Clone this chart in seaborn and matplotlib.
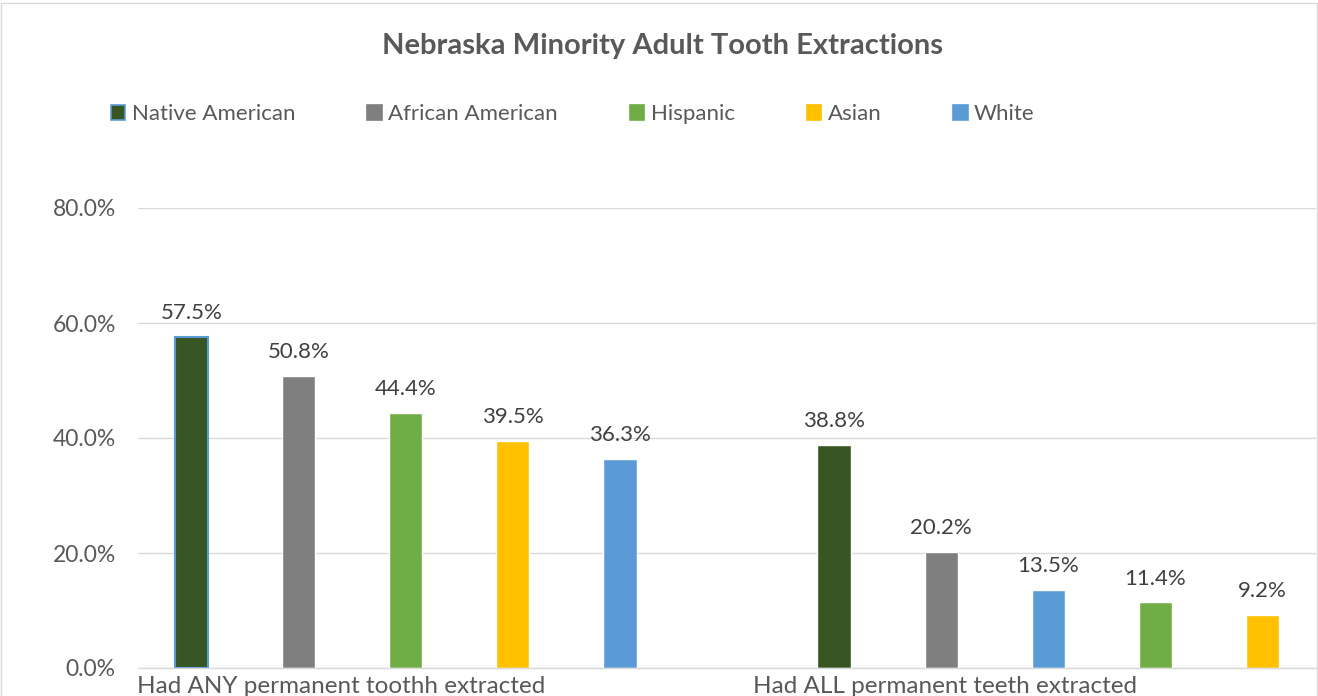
import matplotlib
matplotlib.use("Agg")
import matplotlib.pyplot as plt
import seaborn as sns
import pandas as pd
from matplotlib.patches import Rectangle
from matplotlib.ticker import FuncFormatter

# ---------------- data ----------------
title = "Nebraska Minority Adult Tooth Extractions"
groups = ["Had ANY permanent toothh extracted", "Had ALL permanent teeth extracted"]
legend_order = ["Native American", "African American", "Hispanic", "Asian", "White"]
colors = ["#375623", "#7f7f7f", "#70ad47", "#ffc000", "#5b9bd5"]

races_any = ["Native American", "African American", "Hispanic", "Asian", "White"]
values_any = [57.5, 50.8, 44.4, 39.5, 36.3]
races_all = ["Native American", "African American", "White", "Hispanic", "Asian"]
values_all = [38.8, 20.2, 13.5, 11.4, 9.2]

y_ticks = [0, 20, 40, 60, 80]

# ---------------- style ----------------
sns.set_theme(style="white")
plt.rcParams['font.family'] = ['Lato', 'DejaVu Sans']
TXT = "#595959"
GRID = "#d9d9d9"

W, H = 1318, 696
fig = plt.figure(figsize=(W / 100, H / 100), dpi=100)
ax = fig.add_axes([138 / W, (H - 668) / H, (1316 - 138) / W, (668 - 208) / H])

rows = []
for gi, (races, vals) in enumerate([(races_any, values_any), (races_all, values_all)]):
    for k, (r, v) in enumerate(zip(races, vals)):
        rows.append(dict(slot=f"{gi}-{k}", race=r, value=v, group=groups[gi]))
df = pd.DataFrame(rows)
order = [f"0-{k}" for k in range(5)] + ["gap"] + [f"1-{k}" for k in range(5)]

sns.barplot(data=df, x="slot", y="value", hue="race", order=order,
            hue_order=legend_order, palette=colors, dodge=False, width=0.31,
            saturation=1, ax=ax, legend=False, errorbar=None)

for i, cont in enumerate(ax.containers):
    ax.bar_label(cont, fmt="%.1f%%", padding=10, fontsize=16, color="#404040")
# highlighted (selected) first bar
first = ax.containers[0].patches[0]
first.set_edgecolor("#5b9bd5")
first.set_linewidth(1.5)

ax.set_ylim(0, 80)
ax.set_xlim(-0.5, 10.5)
ax.set_yticks(y_ticks)
ax.yaxis.set_major_formatter(FuncFormatter(lambda v, p: f"{v:.1f}%"))
ax.tick_params(axis='y', length=0, pad=16, labelsize=16.5, labelcolor=TXT)
ax.set_xticks([])
ax.set_xlabel("")
ax.set_ylabel("")
ax.grid(axis='y', color=GRID, lw=1)
ax.set_axisbelow(True)
for s in ["left", "right", "top"]:
    ax.spines[s].set_visible(False)
ax.spines["bottom"].set_color(GRID)
ax.spines["bottom"].set_linewidth(1)

# group labels
for x, lab in zip([1.40, 7.04], groups):
    ax.annotate(lab, xy=(x, 0), xycoords=('data', 'axes fraction'), xytext=(0, -6),
                textcoords='offset points', ha='center', va='top', fontsize=17.5,
                color=TXT, annotation_clip=False)

# legend
handles = [Rectangle((0, 0), 1, 1, facecolor=c,
                     edgecolor=("#5b9bd5" if i == 0 else c), lw=1.2)
           for i, c in enumerate(colors)]
fig.legend(handles, legend_order, loc='center left', bbox_to_anchor=(111 / W, 1 - 114 / H),
           ncol=5, frameon=False, fontsize=16, handlelength=0.65, handleheight=0.65,
           handletextpad=0.28, columnspacing=3.25, borderpad=0, borderaxespad=0,
           labelcolor=TXT)

fig.text(662 / W, 1 - 46 / H, title, ha='center', va='center', fontsize=21,
         weight='bold', color=TXT)

fig.patches.append(Rectangle((1 / W, -0.05), 1316 / W, 1 - 3.5 / H + 0.05,
                             transform=fig.transFigure, fill=False,
                             edgecolor=GRID, lw=1))

fig.savefig("out.png", dpi=100)
